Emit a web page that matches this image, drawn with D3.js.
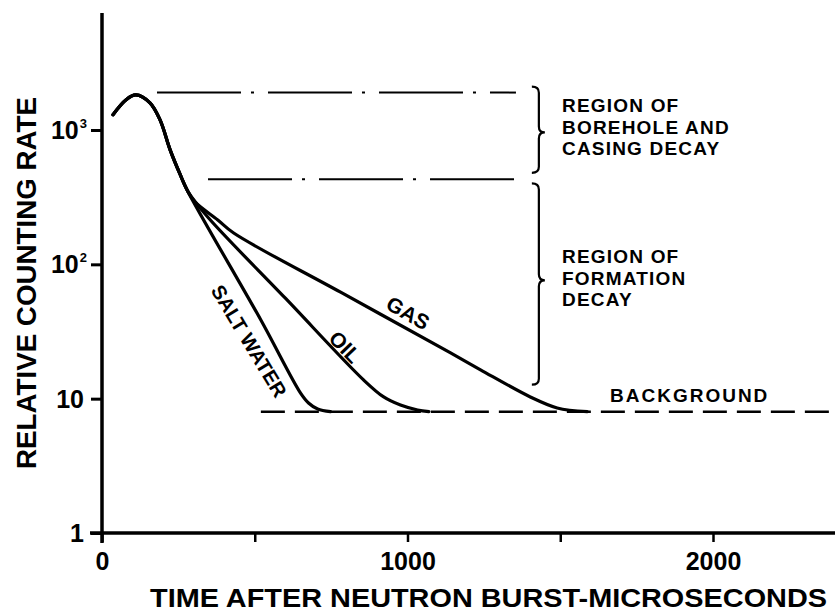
<!DOCTYPE html>
<html>
<head>
<meta charset="utf-8">
<script src="https://cdn.jsdelivr.net/npm/d3@7"></script>
<style>
  html, body { margin: 0; padding: 0; background: #fff; }
  svg { display: block; }
  text { font-family: "Liberation Sans", Arial, Helvetica, sans-serif; font-weight: bold; fill: #000; }
</style>
</head>
<body>
<script>
// ---------------- DATA ----------------
// time after neutron burst (microseconds) and relative counting rate
const commonTime  = [36, 78, 111, 157, 190, 223, 255, 282];
const commonRate  = [1300, 1675, 1825, 1592, 1189, 711, 471, 346];

const gasTime  = [305, 379, 431, 781, 1141, 1239, 1402, 1490, 1588];
const gasRate  = [290, 214, 171, 62, 21.9, 16.4, 10.3, 8.53, 8.0];

const oilTime  = [346, 601, 856, 922, 977, 1033, 1070];
const oilRate  = [225, 55.7, 13.8, 10.3, 8.97, 8.24, 8.0];

const saltTime = [520, 650, 676, 706, 748];
const saltRate = [38.5, 11.0, 9.29, 8.38, 8.0];

const backgroundTime = [520, 2400];
const backgroundRate = [8, 8];

// region boundaries (dash-dot lines)
const boreholeTopTime = [180, 1355];
const boreholeTopRate = [1900, 1900];
const boreholeBottomTime = [347, 1355];
const boreholeBottomRate = [430, 430];

// braces: [time, top rate, bottom rate]
const braceTime = [1430, 1430];
const braceTop = [2100, 400];
const braceBottom = [480, 12.7];
const braceMid = [960, 76];

const xTickValues = [0, 500, 1000, 1500, 2000];
const xTickLabels = ["0", "", "1000", "", "2000"];
const yTickValues = [1, 10, 100, 1000];
const yTickBase = ["1", "10", "10", "10"];
const yTickExp  = ["", "", "2", "3"];

const xTitle = "TIME AFTER NEUTRON BURST-MICROSECONDS";
const yTitle = "RELATIVE COUNTING RATE";

// ---------------- CHART ----------------
const W = 835, H = 616;
const svg = d3.select("body").append("svg").attr("width", W).attr("height", H);
svg.append("rect").attr("width", W).attr("height", H).attr("fill", "#fff");

const x = d3.scaleLinear().domain([0, 2000]).range([102, 713]);
const y = d3.scaleLog().domain([1, 1000]).range([533, 130]);

const zip = (a, b) => a.map((v, i) => [v, b[i]]);
const line = d3.line().x(d => x(d[0])).y(d => y(d[1])).curve(d3.curveCatmullRom.alpha(0.5));
const straight = d3.line().x(d => x(d[0])).y(d => y(d[1]));

const common = zip(commonTime, commonRate);
const series = [
  common.concat(zip(gasTime, gasRate)),
  common.concat(zip(oilTime, oilRate)),
  common.concat(zip(saltTime, saltRate))
];

// axes
const axisG = svg.append("g");
axisG.append("line").attr("x1", x(0)).attr("x2", x(0))
  .attr("y1", 13).attr("y2", y(1) + 10)
  .attr("stroke", "#000").attr("stroke-width", 3.5);
axisG.append("line").attr("x1", x(0) - 12).attr("x2", W)
  .attr("y1", y(1)).attr("y2", y(1))
  .attr("stroke", "#000").attr("stroke-width", 3.5);

// x ticks via d3 axis
const xAxis = d3.axisBottom(x).tickValues(xTickValues).tickSize(9).tickPadding(10)
  .tickFormat((d, i) => xTickLabels[i]);
const xg = svg.append("g").attr("transform", `translate(0,${y(1)})`).call(xAxis);
xg.select(".domain").remove();
xg.selectAll(".tick line").attr("stroke", "#000").attr("stroke-width", 2.5);
xg.selectAll(".tick text").attr("font-size", 25).attr("fill", "#000")
  .style("font-family", "'Liberation Sans', Arial, sans-serif").style("font-weight", "bold");

// y ticks via d3 axis
const yAxis = d3.axisLeft(y).tickValues(yTickValues).tickSize(11).tickFormat("");
const yg = svg.append("g").attr("transform", `translate(${x(0)},0)`).call(yAxis);
yg.select(".domain").remove();
yg.selectAll(".tick line").attr("stroke", "#000").attr("stroke-width", 3);
yTickValues.forEach((v, i) => {
  const hasExp = yTickExp[i] !== "";
  const t = svg.append("text")
    .attr("x", hasExp ? 87 : 84)
    .attr("y", y(v) + 9)
    .attr("text-anchor", "end")
    .attr("font-size", 25);
  t.append("tspan").text(yTickBase[i]);
  if (hasExp) {
    t.append("tspan").attr("font-size", 13).attr("dy", -11).attr("dx", 1).text(yTickExp[i]);
  }
});

// titles
svg.append("text").attr("x", 150).attr("y", 607)
  .attr("font-size", 25).attr("textLength", 677).attr("lengthAdjust", "spacingAndGlyphs")
  .text(xTitle);
svg.append("text").attr("transform", "translate(36,469) rotate(-90)")
  .attr("font-size", 28).attr("textLength", 372).attr("lengthAdjust", "spacingAndGlyphs")
  .text(yTitle);

// region boundary dash-dot lines
[[boreholeTopTime, boreholeTopRate], [boreholeBottomTime, boreholeBottomRate]].forEach(([t, r]) => {
  svg.append("path").attr("d", straight(zip(t, r)))
    .attr("fill", "none").attr("stroke", "#000").attr("stroke-width", 2)
    .attr("stroke-dasharray", "84,10,3,14");
});

// background dashed
svg.append("path").attr("d", straight(zip(backgroundTime, backgroundRate)))
  .attr("fill", "none").attr("stroke", "#000").attr("stroke-width", 2.5)
  .attr("stroke-dasharray", "24,10");

// decay curves
series.forEach(s => {
  svg.append("path").attr("d", line(s))
    .attr("fill", "none").attr("stroke", "#000").attr("stroke-width", 3.2)
    .attr("stroke-linecap", "round").attr("stroke-linejoin", "round");
});

// braces
braceTime.forEach((t, i) => {
  const xv = x(t), x0 = xv - 7, x2 = xv + 6;
  const yt = y(braceTop[i]), yb = y(braceBottom[i]), ym = y(braceMid[i]);
  const r = 6;
  const d = `M${x0},${yt} Q${xv},${yt} ${xv},${yt + r} L${xv},${ym - r} Q${xv},${ym} ${x2},${ym}` +
            ` Q${xv},${ym} ${xv},${ym + r} L${xv},${yb - r} Q${xv},${yb} ${x0},${yb}`;
  svg.append("path").attr("d", d).attr("fill", "none").attr("stroke", "#000").attr("stroke-width", 2.2);
});

// region texts
const regionText = (lines, x0, y0) => {
  lines.forEach((l, i) => {
    svg.append("text").attr("x", x0).attr("y", y0 + i * 21.5)
      .attr("font-size", 19).attr("letter-spacing", 1.2).text(l);
  });
};
regionText(["REGION OF", "BOREHOLE AND", "CASING DECAY"], 562, 112);
regionText(["REGION OF", "FORMATION", "DECAY"], 562, 263);
svg.append("text").attr("x", 610).attr("y", 402).attr("font-size", 19).attr("letter-spacing", 2).text("BACKGROUND");

// curve labels
const curveLabel = (txt, cx, cy, ang, size) => {
  svg.append("text").attr("transform", `translate(${cx},${cy}) rotate(${ang})`)
    .attr("text-anchor", "middle").attr("dy", "0.35em")
    .attr("font-size", size).text(txt);
};
curveLabel("SALT WATER", 249, 341, 59, 20);
curveLabel("OIL", 345, 347, 46, 21);
curveLabel("GAS", 408, 313, 30, 21);
</script>
</body>
</html>
